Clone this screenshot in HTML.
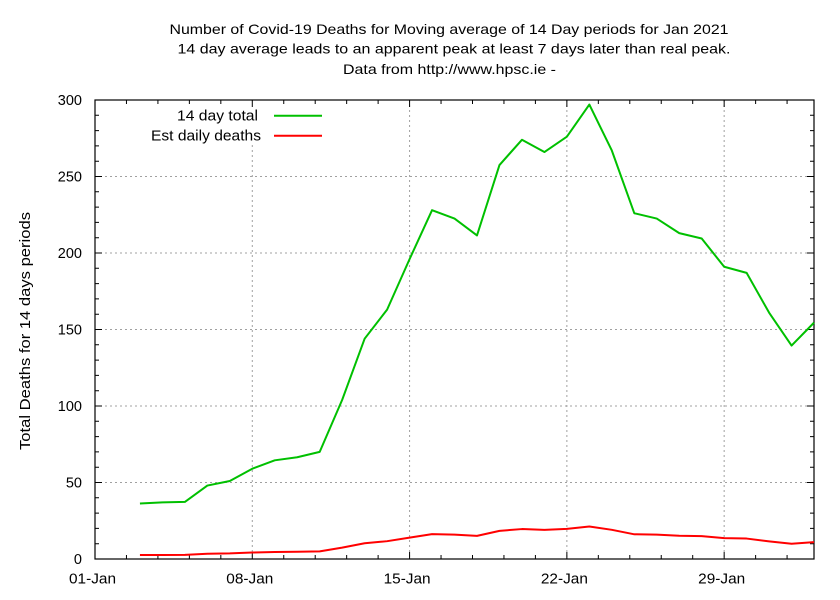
<!DOCTYPE html>
<html><head><meta charset="utf-8"><style>
html,body{margin:0;padding:0;background:#fff;}
svg{display:block;}
text{font-family:"Liberation Sans",Arial,sans-serif;fill:#000;}
</style></head><body>
<svg width="840" height="600" viewBox="0 0 840 600" xmlns="http://www.w3.org/2000/svg">
<rect x="0" y="0" width="840" height="600" fill="#fff"/>
<!-- title -->
<text x="449" y="34" font-size="14" text-anchor="middle" textLength="559" lengthAdjust="spacingAndGlyphs">Number of Covid-19 Deaths for Moving average of 14 Day periods for Jan 2021</text>
<text x="454" y="53.5" font-size="14" text-anchor="middle" textLength="553" lengthAdjust="spacingAndGlyphs">14 day average leads to an apparent peak at least 7 days later than real peak.</text>
<text x="449.5" y="74" font-size="14" text-anchor="middle" textLength="213" lengthAdjust="spacingAndGlyphs">Data from http://www.hpsc.ie -</text>
<!-- grid -->
<g stroke="#a0a0a0" stroke-width="1" stroke-dasharray="2,3" fill="none">
<path d="M95 482.5H814M95 406H814M95 329.5H814M95 253H814M95 176.5H814"/>
<path d="M252.29 100V559M409.58 100V559M566.87 100V559M724.16 100V559"/>
</g>
<!-- legend background -->
<rect x="140" y="101" width="195" height="44" fill="#fff"/>
<!-- ticks -->
<g stroke="#000" stroke-width="1" fill="none">
<path d="M95 482.5h7M95 406h7M95 329.5h7M95 253h7M95 176.5h7M814 482.5h-7M814 406h-7M814 329.5h-7M814 253h-7M814 176.5h-7"/>
<path d="M95 543.7h4M95 528.4h4M95 513.1h4M95 497.8h4M95 467.2h4M95 451.9h4M95 436.6h4M95 421.3h4M95 390.7h4M95 375.4h4M95 360.1h4M95 344.8h4M95 314.2h4M95 298.9h4M95 283.6h4M95 268.3h4M95 237.7h4M95 222.4h4M95 207.1h4M95 191.8h4M95 161.2h4M95 145.9h4M95 130.6h4M95 115.3h4"/>
<path d="M814 543.7h-4M814 528.4h-4M814 513.1h-4M814 497.8h-4M814 467.2h-4M814 451.9h-4M814 436.6h-4M814 421.3h-4M814 390.7h-4M814 375.4h-4M814 360.1h-4M814 344.8h-4M814 314.2h-4M814 298.9h-4M814 283.6h-4M814 268.3h-4M814 237.7h-4M814 222.4h-4M814 207.1h-4M814 191.8h-4M814 161.2h-4M814 145.9h-4M814 130.6h-4M814 115.3h-4"/>
<path d="M252.29 559v-7M409.58 559v-7M566.87 559v-7M724.16 559v-7M252.29 100v7M409.58 100v7M566.87 100v7M724.16 100v7"/>
<path d="M126.46 559v-4M157.92 559v-4M189.37 559v-4M220.83 559v-4M283.75 559v-4M315.21 559v-4M346.66 559v-4M378.12 559v-4M441.04 559v-4M472.5 559v-4M503.95 559v-4M535.41 559v-4M598.33 559v-4M629.79 559v-4M661.24 559v-4M692.7 559v-4M755.62 559v-4M787.08 559v-4"/>
<path d="M126.46 100v4M157.92 100v4M189.37 100v4M220.83 100v4M283.75 100v4M315.21 100v4M346.66 100v4M378.12 100v4M441.04 100v4M472.5 100v4M503.95 100v4M535.41 100v4M598.33 100v4M629.79 100v4M661.24 100v4M692.7 100v4M755.62 100v4M787.08 100v4"/>
</g>
<!-- frame -->
<rect x="95" y="100" width="719" height="459" fill="none" stroke="#000" stroke-width="1.2"/>
<!-- y tick labels -->
<g font-size="14.5" text-anchor="end">
<text x="82" y="564">0</text>
<text x="82" y="487.5">50</text>
<text x="82" y="411">100</text>
<text x="82" y="334.5">150</text>
<text x="82" y="258">200</text>
<text x="82" y="181.5">250</text>
<text x="82" y="105">300</text>
</g>
<!-- x tick labels -->
<g font-size="14.5" text-anchor="middle">
<text x="92.5" y="583.5" textLength="47" lengthAdjust="spacingAndGlyphs">01-Jan</text>
<text x="249.8" y="583.5" textLength="47" lengthAdjust="spacingAndGlyphs">08-Jan</text>
<text x="407.1" y="583.5" textLength="47" lengthAdjust="spacingAndGlyphs">15-Jan</text>
<text x="564.4" y="583.5" textLength="47" lengthAdjust="spacingAndGlyphs">22-Jan</text>
<text x="721.7" y="583.5" textLength="47" lengthAdjust="spacingAndGlyphs">29-Jan</text>
</g>
<!-- y axis label -->
<text transform="translate(30,331) rotate(-90)" font-size="14.5" text-anchor="middle" textLength="238" lengthAdjust="spacingAndGlyphs">Total Deaths for 14 days periods</text>
<!-- legend -->
<text x="258" y="120.5" font-size="14.5" text-anchor="end" textLength="81" lengthAdjust="spacingAndGlyphs">14 day total</text>
<text x="261" y="140.5" font-size="14.5" text-anchor="end" textLength="110" lengthAdjust="spacingAndGlyphs">Est daily deaths</text>
<path d="M274 115.7H322" stroke="#00c000" stroke-width="2"/>
<path d="M274 135.7H322" stroke="#ff0000" stroke-width="2"/>
<!-- series -->
<polyline fill="none" stroke="#00c000" stroke-width="2" stroke-linejoin="round" points="139.94,503.46 162.41,502.39 184.88,501.93 207.35,485.56 229.82,480.97 252.29,468.73 274.76,460.32 297.23,457.26 319.7,451.9 342.17,399.88 364.64,338.68 387.11,309.61 409.58,259.12 432.05,210.16 454.52,218.58 476.99,235.41 499.46,165.03 521.93,139.78 544.4,152.02 566.87,136.72 589.34,104.59 611.81,150.49 634.28,213.22 656.75,218.58 679.22,233.11 701.69,238.47 724.16,266.77 746.63,272.89 769.1,312.67 791.57,345.57 814.04,322.62"/>
<polyline fill="none" stroke="#ff0000" stroke-width="2" stroke-linejoin="round" points="139.94,555.03 162.41,554.96 184.88,554.92 207.35,553.75 229.82,553.43 252.29,552.55 274.76,551.95 297.23,551.73 319.7,551.35 342.17,547.63 364.64,543.26 387.11,541.19 409.58,537.58 432.05,534.08 454.52,534.68 476.99,535.89 499.46,530.86 521.93,529.06 544.4,529.93 566.87,528.84 589.34,526.54 611.81,529.82 634.28,534.3 656.75,534.68 679.22,535.72 701.69,536.1 724.16,538.13 746.63,538.56 769.1,541.4 791.57,543.75 814.04,542.12"/>
</svg>
</body></html>
